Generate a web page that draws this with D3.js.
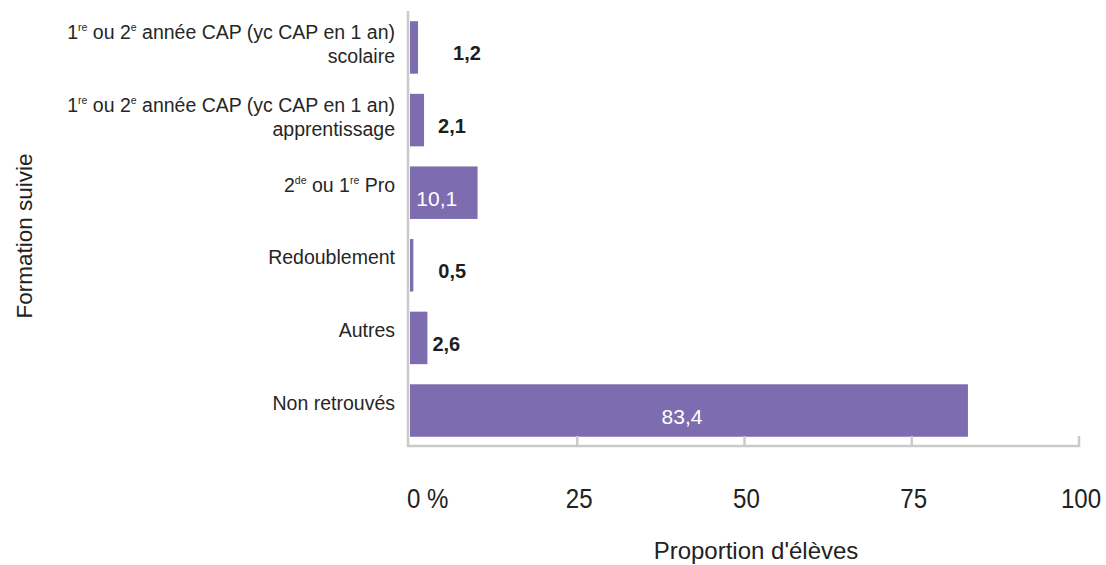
<!DOCTYPE html>
<html>
<head>
<meta charset="utf-8">
<script src="https://cdn.jsdelivr.net/npm/d3@7"></script>
<style>
  html, body { margin: 0; padding: 0; background: #fff; }
  svg { display: block; }
  text { font-family: "Liberation Sans", Arial, sans-serif; }
</style>
</head>
<body>
<svg id="chart" width="1106" height="565"></svg>
<script>
// ---- data ----
// {..} marks superscript text, "\n" a line break
const categories = [
  "1{re} ou 2{e} année CAP (yc CAP en 1 an)\nscolaire",
  "1{re} ou 2{e} année CAP (yc CAP en 1 an)\napprentissage",
  "2{de} ou 1{re} Pro",
  "Redoublement",
  "Autres",
  "Non retrouvés"
];
const values = [1.2, 2.1, 10.1, 0.5, 2.6, 83.4];
const tickValues = [0, 25, 50, 75, 100];
const tickLabels = ["0 %", "25", "50", "75", "100"];
const xTitle = "Proportion d'élèves";
const yTitle = "Formation suivie";

// ---- layout ----
const svg = d3.select("#chart");
const barColor = "#7e6cb0";
const axisColor = "#cacaca";
const outsideNudge = [35, 14, 0, 25, 5, 0]; // gap between bar end and outside label

const x = d3.scaleLinear().domain([0, 100]).range([410, 1079]);
const y = d3.scaleBand()
  .domain(d3.range(categories.length))
  .range([11, 447])
  .paddingInner(0.277)
  .paddingOuter(0.141);

const fmt = v => d3.format(".1f")(v).replace(".", ",");

// bars
svg.append("g").selectAll("rect")
  .data(values)
  .join("rect")
  .attr("x", x(0))
  .attr("y", (d, i) => y(i))
  .attr("width", d => x(d) - x(0))
  .attr("height", y.bandwidth())
  .attr("fill", barColor);

// axes lines
const g = svg.append("g");
g.append("line")
  .attr("x1", x(0) - 2).attr("x2", x(0) - 2)
  .attr("y1", 11).attr("y2", 447)
  .attr("stroke", axisColor).attr("stroke-width", 2.5);
g.append("line")
  .attr("x1", x(0) - 3).attr("x2", x(100) + 1.2)
  .attr("y1", 446).attr("y2", 446)
  .attr("stroke", axisColor).attr("stroke-width", 2.5);
g.selectAll("line.tick")
  .data(tickValues.slice(1))
  .join("line")
  .attr("class", "tick")
  .attr("x1", d => x(d)).attr("x2", d => x(d))
  .attr("y1", 436).attr("y2", 447)
  .attr("stroke", axisColor).attr("stroke-width", 2.5);

// tick labels
svg.append("g").selectAll("text")
  .data(tickValues)
  .join("text")
  .attr("transform", (d, i) => `translate(${i === 0 ? x(d) - 3 : x(d) + 2},508) scale(0.86,1)`)
  .attr("text-anchor", (d, i) => i === 0 ? "start" : "middle")
  .attr("font-size", 28)
  .attr("fill", "#222")
  .text((d, i) => tickLabels[i]);

// category labels
const catSize = 19.5;
function addRich(textSel, str) {
  const parts = str.split(/(\{[^}]*\})/).filter(s => s.length);
  let pending = 0;
  parts.forEach(p => {
    if (p[0] === "{") {
      textSel.append("tspan").attr("font-size", 10.5).attr("dy", -8 + pending).text(p.slice(1, -1));
      pending = 8;
    } else {
      textSel.append("tspan").attr("font-size", catSize).attr("dy", pending).text(p);
      pending = 0;
    }
  });
}
const catG = svg.append("g");
categories.forEach((c, i) => {
  const lines = c.split("\n");
  const cy = y(i) + y.bandwidth() / 2;
  const first = cy - 1 - (lines.length - 1) * 7;
  lines.forEach((ln, j) => {
    const t = catG.append("text")
      .attr("x", 395)
      .attr("y", first + j * 24)
      .attr("text-anchor", "end")
      .attr("font-size", catSize)
      .attr("fill", "#262626");
    addRich(t, ln);
  });
});

// value labels
svg.append("g").selectAll("text")
  .data(values)
  .join("text")
  .each(function (d, i) {
    const t = d3.select(this);
    const cy = y(i) + y.bandwidth() / 2 + 13;
    const inside = (x(d) - x(0)) > 50;
    if (inside) {
      t.attr("x", (x(0) + x(d)) / 2 - 7)
        .attr("text-anchor", "middle")
        .attr("fill", "#ffffff")
        .attr("font-size", 21);
    } else {
      t.attr("x", x(d) + outsideNudge[i])
        .attr("text-anchor", "start")
        .attr("fill", "#1e1e1e")
        .attr("font-weight", "bold")
        .attr("font-size", 20);
    }
    t.attr("y", cy).text(fmt(d));
  });

// axis titles
svg.append("text")
  .attr("x", 756).attr("y", 559)
  .attr("text-anchor", "middle")
  .attr("font-size", 24)
  .attr("fill", "#222")
  .text(xTitle);
svg.append("text")
  .attr("transform", "translate(32,236) rotate(-90)")
  .attr("text-anchor", "middle")
  .attr("font-size", 22.5)
  .attr("fill", "#222")
  .text(yTitle);
</script>
</body>
</html>
